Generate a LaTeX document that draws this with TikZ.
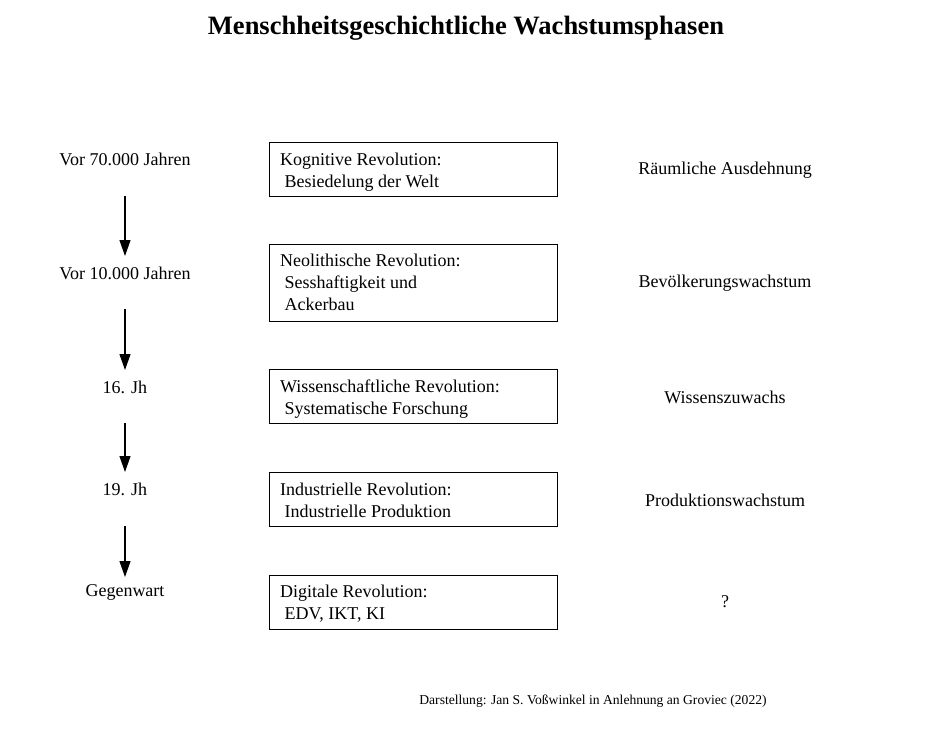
\documentclass[tikz,border=0pt]{standalone}
\usepackage{fontspec}
\setmainfont{Liberation Serif}
\usetikzlibrary{arrows.meta}
\begin{document}
\begin{tikzpicture}[x=1pt,y=-1pt,
  boxtext/.style={anchor=base west,align=left,font=\fontsize{18}{22}\selectfont,inner sep=0pt},
  sidelabel/.style={font=\fontsize{18}{20}\selectfont,inner sep=0pt},
  timearrow/.style={-{Triangle[length=16pt,width=11pt]},line width=1.2pt}]
\useasboundingbox (0,0) rectangle (935,731);
\node[font=\bfseries\fontsize{26.5}{30}\selectfont] (title) at (466,28) {Menschheitsgeschichtliche Wachstumsphasen};
% boxes
\draw[line width=0.8pt] (269,142) rectangle (557,196);
\draw[line width=0.8pt] (269,244) rectangle (557,321);
\draw[line width=0.8pt] (269,369) rectangle (557,423);
\draw[line width=0.8pt] (269,472) rectangle (557,526);
\draw[line width=0.8pt] (269,575) rectangle (557,629);
\node[boxtext] (b1) at (280,187) {Kognitive Revolution:\\\ Besiedelung der Welt};
\node[boxtext] (b2) at (280,310) {Neolithische Revolution:\\\ Sesshaftigkeit und\\\ Ackerbau};
\node[boxtext] (b3) at (280,414) {Wissenschaftliche Revolution:\\\ Systematische Forschung};
\node[boxtext] (b4) at (280,517) {Industrielle Revolution:\\\ Industrielle Produktion};
\node[boxtext] (b5) at (280,619) {Digitale Revolution:\\\ EDV, IKT, KI};
% left labels
\node[sidelabel] (t1) at (125,159) {Vor 70.000 Jahren};
\node[sidelabel] (t2) at (125,273) {Vor 10.000 Jahren};
\node[sidelabel] (t3) at (125,387) {16. Jh};
\node[sidelabel] (t4) at (125,489) {19. Jh};
\node[sidelabel] (t5) at (125,592) {Gegenwart};
\coordinate (a1s) at (125,196); \coordinate (a1e) at (125,256);
\coordinate (a2s) at (125,309); \coordinate (a2e) at (125,370);
\coordinate (a3s) at (125,423); \coordinate (a3e) at (125,472);
\coordinate (a4s) at (125,526); \coordinate (a4e) at (125,577);
\draw[timearrow] (a1s) -- (a1e);
\draw[timearrow] (a2s) -- (a2e);
\draw[timearrow] (a3s) -- (a3e);
\draw[timearrow] (a4s) -- (a4e);
% right labels
\node[sidelabel] (r1) at (725,170) {Räumliche Ausdehnung};
\node[sidelabel] (r2) at (725,283) {Bevölkerungswachstum};
\node[sidelabel] (r3) at (725,397) {Wissenszuwachs};
\node[sidelabel] (r4) at (725,500) {Produktionswachstum};
\node[sidelabel] (r5) at (725,602) {?};
\node[font=\fontsize{13.6}{16}\selectfont] (foot) at (593,701) {Darstellung: Jan S. Voßwinkel in Anlehnung an Groviec (2022)};
\end{tikzpicture}
\end{document}
